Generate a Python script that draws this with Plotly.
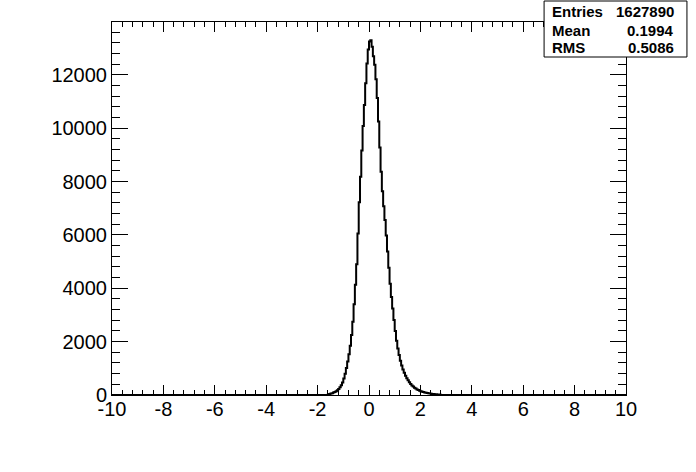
import plotly.graph_objects as go

# Histogram: bin width 0.05 on [-10, 10]; non-empty region starts at -1.6
bin_width = 0.05
x_min, x_max = -10.0, 10.0
first_bin_lo = -1.6
counts = [
    30, 40, 55, 70, 90, 115, 145, 180, 225, 290,
    370, 470, 620, 800, 1010, 1260, 1530, 1850, 2250, 2750,
    3400, 4130, 4900, 6050, 7220, 8180, 9160, 10080, 10870, 11680,
    12420, 12950, 13250, 13300, 13050, 12700, 12380, 11830, 11130, 10250,
    9280, 8370, 7640, 7070, 6560, 5980, 5380, 4770, 4170, 3670,
    3240, 2810, 2400, 2030, 1740, 1500, 1280, 1110, 960, 830,
    720, 630, 550, 480, 415, 360, 315, 275, 240, 210,
    185, 160, 140, 125, 110, 95, 85, 75, 65, 55,
    48, 42, 36, 30, 25, 20, 16, 12,
]
stats_labels = ["Entries", "Mean", "RMS"]
stats_values = ["1627890", "0.1994", "0.5086"]
x_ticks = [-10, -8, -6, -4, -2, 0, 2, 4, 6, 8, 10]
x_ticktext = ["-10", "-8", "-6", "-4", "-2", "0", "2", "4", "6", "8", "10"]
y_ticks = [0, 2000, 4000, 6000, 8000, 10000, 12000]
y_ticktext = ["0", "2000", "4000", "6000", "8000", "10000", "12000"]

# build step outline over full range
xs = [x_min, first_bin_lo]
ys = [0, 0]
for i, c in enumerate(counts):
    xs.append(first_bin_lo + i * bin_width)
    ys.append(c)
end = first_bin_lo + len(counts) * bin_width
xs += [end, x_max]
ys += [0, 0]

fig = go.Figure()
fig.add_trace(go.Scatter(x=xs, y=ys, mode="lines", line_shape="hv",
                         line=dict(color="black", width=2), hoverinfo="skip"))

W, H = 696, 472
L, R, T, B = 111.5, 626, 22, 395

def px(xp):
    return (xp - L) / (R - L)

def py(yp):
    return (B - yp) / (B - T)

fig.add_shape(type="rect", xref="paper", yref="paper",
              x0=px(544), x1=px(687), y0=py(57), y1=py(1),
              line=dict(color="black", width=1), fillcolor="white", layer="above")

row_y = [12, 30, 47]
for lab, val, ry in zip(stats_labels, stats_values, row_y):
    fig.add_annotation(x=px(550), y=py(ry), xref="paper", yref="paper",
                       text="<b>%s</b>" % lab, showarrow=False,
                       xanchor="left", yanchor="middle",
                       font=dict(family="Liberation Sans", size=15, color="black"))
    fig.add_annotation(x=px(676), y=py(ry), xref="paper", yref="paper",
                       text="<b>%s</b>" % val, showarrow=False,
                       xanchor="right", yanchor="middle",
                       font=dict(family="Liberation Sans", size=15, color="black"))

axis_font = dict(family="Liberation Sans", size=20, color="black")
fig.update_xaxes(range=[x_min, x_max], tickvals=x_ticks, ticktext=x_ticktext,
                 ticks="inside", ticklen=10, ticklabelstandoff=-4,
                 tickwidth=1, tickcolor="black", showline=True, linecolor="black",
                 linewidth=1, mirror="allticks", showgrid=False, zeroline=False,
                 tickfont=axis_font,
                 minor=dict(dtick=0.4, tick0=0, ticks="inside", ticklen=5,
                            tickcolor="black", showgrid=False))
fig.update_yaxes(range=[0, 13980], tickvals=y_ticks, ticktext=y_ticktext,
                 ticks="inside", ticklen=16,
                 tickwidth=1, tickcolor="black", showline=True, linecolor="black",
                 linewidth=1, mirror="allticks", showgrid=False, zeroline=False,
                 tickfont=axis_font,
                 minor=dict(dtick=400, tick0=0, ticks="inside", ticklen=8,
                            tickcolor="black", showgrid=False))

fig.update_layout(width=W, height=H, autosize=False,
                  margin=dict(l=L, r=W - R, t=T, b=H - B, pad=0),
                  paper_bgcolor="white", plot_bgcolor="white",
                  showlegend=False)

fig.write_html("out.html", config={"displayModeBar": False, "staticPlot": True},
               post_script="document.body.style.margin='0';document.body.style.overflow='hidden';")
